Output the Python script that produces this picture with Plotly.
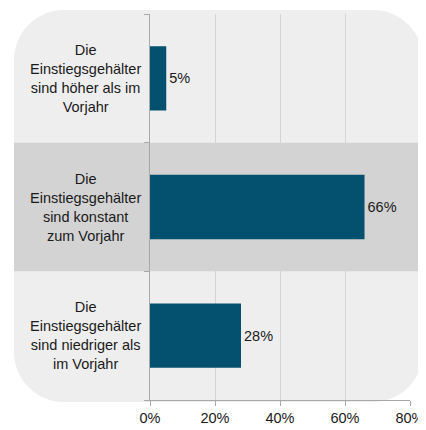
import plotly.graph_objects as go

categories = [
    "Die<br>Einstiegsgehälter<br>sind höher als im<br>Vorjahr",
    "Die<br>Einstiegsgehälter<br>sind konstant<br>zum Vorjahr",
    "Die<br>Einstiegsgehälter<br>sind niedriger als<br>im Vorjahr",
]
values = [5, 66, 28]
tick_vals = [0, 20, 40, 60, 80]
tick_text = ["0%", "20%", "40%", "60%", "80%"]

# page body has an 8px margin, so the figure is laid out in page coords minus 8
OFF = 8
W, H = 426 - OFF, 430 - OFF
ML, MT = 150 - OFF, 14 - OFF
PR, PB = 410 - OFF, 400 - OFF
MR, MB = W - PR, H - PB
PW, PH = PR - ML, PB - MT


def px(x):
    return (x - OFF - ML) / PW


def py(y):
    return (PB - (y - OFF)) / PH


def rounded_rect(x0, y0, x1, y1, r):
    k = 0.5523 * r
    pts = []
    pts.append(f"M{px(x0 + r)},{py(y0)}")
    pts.append(f"L{px(x1 - r)},{py(y0)}")
    pts.append(f"C{px(x1 - r + k)},{py(y0)} {px(x1)},{py(y0 + r - k)} {px(x1)},{py(y0 + r)}")
    pts.append(f"L{px(x1)},{py(y1 - r)}")
    pts.append(f"C{px(x1)},{py(y1 - r + k)} {px(x1 - r + k)},{py(y1)} {px(x1 - r)},{py(y1)}")
    pts.append(f"L{px(x0 + r)},{py(y1)}")
    pts.append(f"C{px(x0 + r - k)},{py(y1)} {px(x0)},{py(y1 - r + k)} {px(x0)},{py(y1 - r)}")
    pts.append(f"L{px(x0)},{py(y0 + r)}")
    pts.append(f"C{px(x0)},{py(y0 + r - k)} {px(x0 + r - k)},{py(y0)} {px(x0 + r)},{py(y0)}")
    pts.append("Z")
    return " ".join(pts)


font = "Liberation Sans, Arial, sans-serif"

fig = go.Figure(
    go.Bar(
        x=values,
        y=list(range(len(categories))),
        orientation="h",
        width=0.5,
        marker=dict(color="#03506F", line=dict(width=0)),
        text=[f"{v}%" for v in values],
        textposition="outside",
        textfont=dict(size=14.5, color="#1a1a1a", family=font),
        cliponaxis=False,
    )
)

shapes = [
    dict(type="path", xref="paper", yref="paper", layer="below",
         path=rounded_rect(14, 10, 423, 402, 50),
         fillcolor="#eeeeee", line=dict(width=0)),
    dict(type="rect", xref="paper", yref="y", layer="between",
         x0=px(14), x1=px(423), y0=0.5, y1=1.5,
         fillcolor="#d3d3d3", line=dict(width=0)),
]

annotations = [
    dict(x=px(85), y=i, xref="paper", yref="y", text=c, showarrow=False,
         align="center", xanchor="center", yanchor="middle",
         font=dict(size=14.5, color="#1a1a1a", family=font))
    for i, c in enumerate(categories)
]

fig.update_layout(
    template="none",
    width=W, height=H,
    margin=dict(l=ML, r=MR, t=MT, b=MB, pad=0, autoexpand=False),
    paper_bgcolor="white",
    plot_bgcolor="rgba(0,0,0,0)",
    showlegend=False,
    shapes=shapes,
    annotations=annotations,
    xaxis=dict(
        range=[0, 80], tickvals=tick_vals, ticktext=tick_text,
        showgrid=True, gridcolor="#d4d4d4", gridwidth=1,
        zeroline=False, showline=True, linecolor="#a8a8a8", linewidth=1,
        ticks="outside", ticklen=5, tickcolor="#a8a8a8",
        tickfont=dict(size=14.5, color="#1a1a1a", family=font),
        fixedrange=True, automargin=False,
    ),
    yaxis=dict(
        range=[2.5, -0.5], tickvals=[-0.5, 0.5, 1.5, 2.5], ticktext=["", "", "", ""],
        showgrid=False, zeroline=False, showline=True, linecolor="#a8a8a8", linewidth=1,
        ticks="outside", ticklen=5, tickcolor="#a8a8a8",
        showticklabels=False, fixedrange=True, automargin=False,
    ),
)

fig.write_html("out.html")
